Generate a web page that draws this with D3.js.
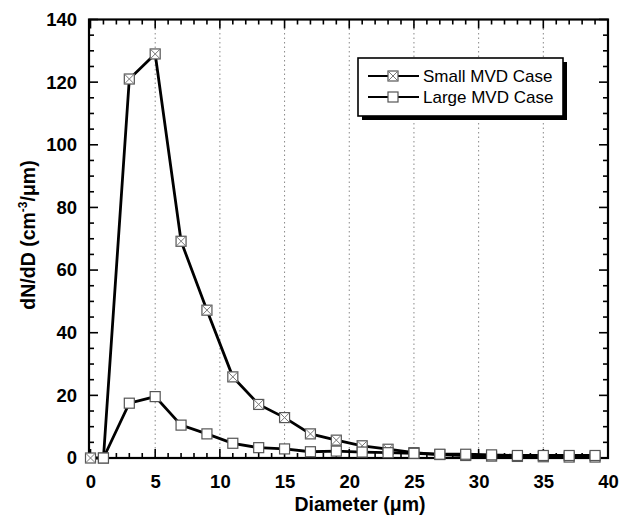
<!DOCTYPE html>
<html>
<head>
<meta charset="utf-8">
<script src="https://cdn.jsdelivr.net/npm/d3@7"></script>
<style>
  body { margin: 0; background: #fff; }
  text { font-family: "Liberation Sans", Arial, sans-serif; }
</style>
</head>
<body>
<div id="chart"></div>
<script>
// diameters (um) and droplet concentrations
const smallX = [0, 1, 3, 5, 7, 9, 11, 13, 15, 17, 19, 21, 23, 25, 27, 29, 31, 33, 35, 37, 39];
const smallY = [0, 0, 121, 129, 69.2, 47.2, 25.9, 17.1, 12.9, 7.7, 5.7, 3.9, 2.8, 1.7, 1.1, 0.8, 0.6, 0.5, 0.4, 0.3, 0.3];
const largeX = [1, 3, 5, 7, 9, 11, 13, 15, 17, 19, 21, 23, 25, 27, 29, 31, 33, 35, 37, 39];
const largeY = [0, 17.5, 19.6, 10.5, 7.7, 4.7, 3.3, 2.9, 2.0, 2.2, 1.9, 1.7, 1.5, 1.2, 1.2, 1.0, 0.8, 0.8, 0.8, 0.8];
const xTicks = [0, 5, 10, 15, 20, 25, 30, 35, 40];
const yTicks = [0, 20, 40, 60, 80, 100, 120, 140];
const seriesNames = ["Small MVD Case", "Large MVD Case"];

const width = 627, height = 516;
const pLeft = 89, pRight = 608, pTop = 19.5, pBottom = 458;

const svg = d3.select("#chart").append("svg")
  .attr("width", width).attr("height", height);

const x = d3.scaleLinear().domain([0, 40]).range([90.5, pRight]);
const y = d3.scaleLinear().domain([0, 140]).range([pBottom, pTop]);

// dotted vertical grid
svg.append("g").selectAll("line")
  .data(xTicks.filter(d => d > 0 && d < 40))
  .enter().append("line")
  .attr("x1", d => x(d)).attr("x2", d => x(d))
  .attr("y1", pTop).attr("y2", pBottom)
  .attr("stroke", "#888").attr("stroke-width", 1)
  .attr("stroke-dasharray", "1.5,3");

// inward ticks on all four sides
const xMinor = d3.range(0, 41, 1);
const yMinor = d3.range(0, 141, 5);
const g = svg.append("g");
g.selectAll(".xt").data(xMinor).enter().append("line")
  .attr("x1", d => x(d)).attr("x2", d => x(d))
  .attr("y1", pBottom).attr("y2", d => pBottom - (d % 5 === 0 ? 9 : 5))
  .attr("stroke", "#000").attr("stroke-width", 1.6);
g.selectAll(".xtt").data(xMinor).enter().append("line")
  .attr("x1", d => x(d)).attr("x2", d => x(d))
  .attr("y1", pTop).attr("y2", d => pTop + (d % 5 === 0 ? 9 : 5))
  .attr("stroke", "#000").attr("stroke-width", 1.6);
g.selectAll(".yt").data(yMinor).enter().append("line")
  .attr("y1", d => y(d)).attr("y2", d => y(d))
  .attr("x1", pLeft).attr("x2", d => pLeft + (d % 20 === 0 ? 9 : 5))
  .attr("stroke", "#000").attr("stroke-width", 1.6);
g.selectAll(".ytr").data(yMinor).enter().append("line")
  .attr("y1", d => y(d)).attr("y2", d => y(d))
  .attr("x1", pRight).attr("x2", d => pRight - (d % 20 === 0 ? 9 : 5))
  .attr("stroke", "#000").attr("stroke-width", 1.6);

// tick labels via d3 axes
const xAxis = svg.append("g").attr("transform", `translate(0,${pBottom})`)
  .call(d3.axisBottom(x).tickValues(xTicks).tickSize(0).tickPadding(17));
const yAxis = svg.append("g").attr("transform", `translate(${pLeft},0)`)
  .call(d3.axisLeft(y).tickValues(yTicks).tickSize(0).tickPadding(12));
[xAxis, yAxis].forEach(a => {
  a.select(".domain").remove();
  a.selectAll("text").attr("font-size", 18.5).attr("font-weight", "bold")
    .attr("fill", "#000").style("font-family", "'Liberation Sans', Arial, sans-serif");
});

// frame
svg.append("rect").attr("x", pLeft).attr("y", pTop)
  .attr("width", pRight - pLeft).attr("height", pBottom - pTop)
  .attr("fill", "none").attr("stroke", "#000").attr("stroke-width", 2.2);

// axis titles
svg.append("text").attr("x", 360).attr("y", 511)
  .attr("text-anchor", "middle").attr("font-size", 19.5).attr("font-weight", "bold")
  .text("Diameter (\u03bcm)");
const yl = svg.append("text")
  .attr("transform", `translate(35,235) rotate(-90)`)
  .attr("text-anchor", "middle").attr("font-size", 19.5).attr("font-weight", "bold");
yl.append("tspan").text("dN/dD (cm");
yl.append("tspan").attr("font-size", 12).attr("dy", -8).text("-3");
yl.append("tspan").attr("dy", 8).text("/\u03bcm)");

// lines
const line = d3.line().x(d => x(d[0])).y(d => y(d[1]));
const small = smallX.map((d, i) => [d, smallY[i]]);
const large = largeX.map((d, i) => [d, largeY[i]]);

function marker(sel, crossed) {
  const s = 5;
  sel.append("rect").attr("x", -s).attr("y", -s).attr("width", 2 * s).attr("height", 2 * s)
    .attr("fill", "#fff").attr("stroke", "#555").attr("stroke-width", 1.2);
  if (crossed) {
    sel.append("path").attr("d", `M${-s},${-s}L${s},${s}M${-s},${s}L${s},${-s}`)
      .attr("stroke", "#777").attr("stroke-width", 1);
  }
}

[small, large].forEach(pts => {
  svg.append("path").datum(pts).attr("d", line)
    .attr("fill", "none").attr("stroke", "#000").attr("stroke-width", 2.8);
});
[[small, true], [large, false]].forEach(([pts, crossed]) => {
  svg.append("g").selectAll("g").data(pts).enter().append("g")
    .attr("transform", d => `translate(${x(d[0])},${y(d[1])})`)
    .each(function () { marker(d3.select(this), crossed); });
});

// legend
const lg = svg.append("g");
lg.append("rect").attr("x", 362).attr("y", 62).attr("width", 205).attr("height", 58).attr("fill", "#000");
lg.append("rect").attr("x", 358).attr("y", 58).attr("width", 205).attr("height", 58)
  .attr("fill", "#fff").attr("stroke", "#000").attr("stroke-width", 1.6);
seriesNames.forEach((name, i) => {
  const ly = 76 + i * 21;
  lg.append("line").attr("x1", 368).attr("x2", 419).attr("y1", ly).attr("y2", ly)
    .attr("stroke", "#000").attr("stroke-width", 2.2);
  marker(lg.append("g").attr("transform", `translate(393,${ly})`), i === 0);
  lg.append("text").attr("x", 423).attr("y", ly + 6).attr("font-size", 17).text(name);
});
</script>
</body>
</html>
